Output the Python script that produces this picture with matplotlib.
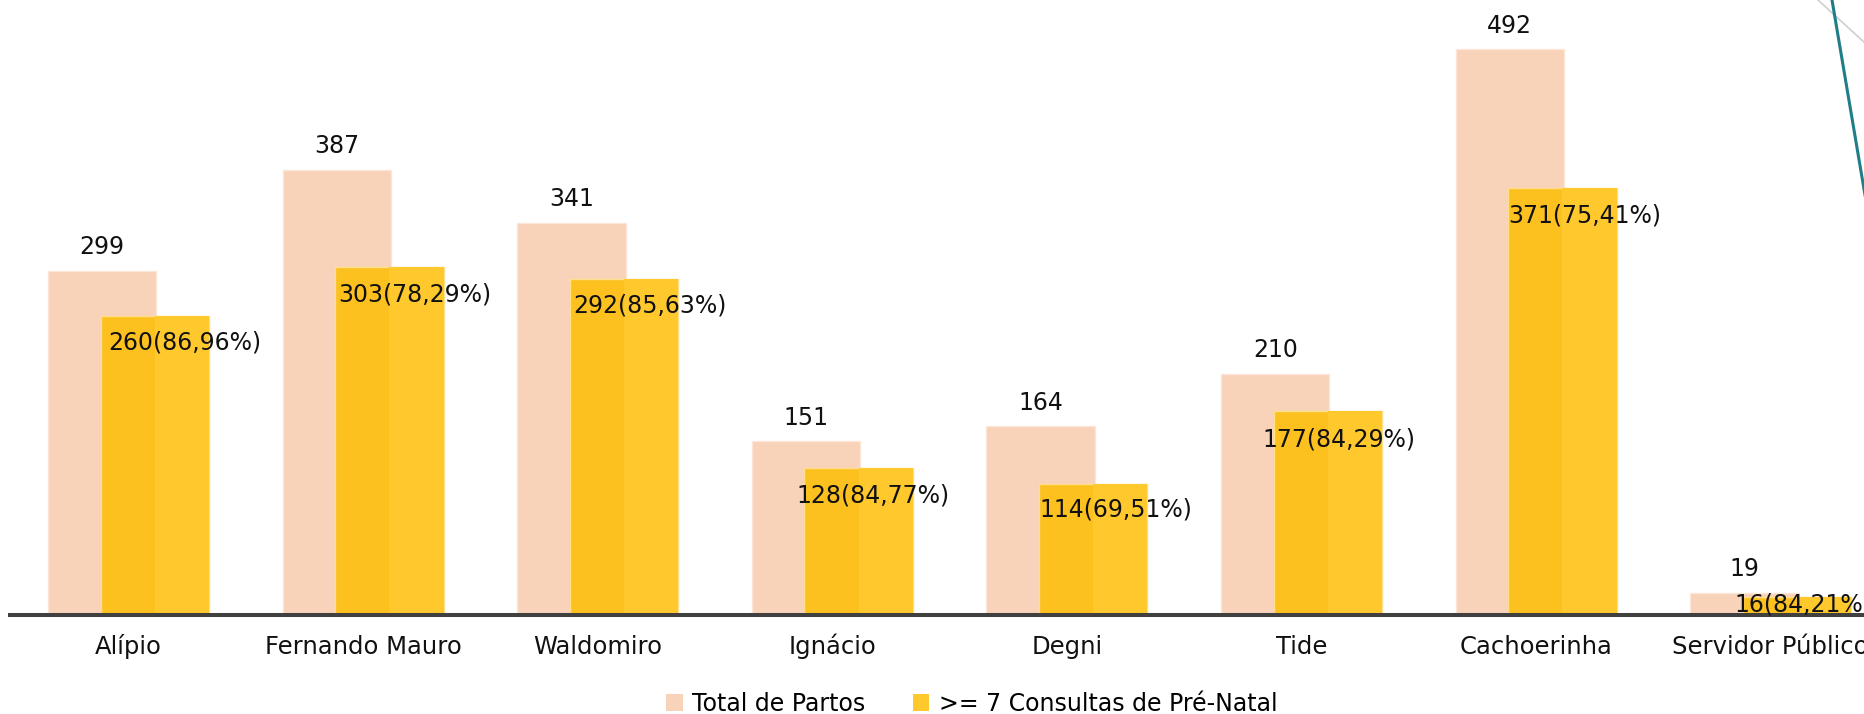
import matplotlib
matplotlib.use("Agg")
import matplotlib.pyplot as plt
from matplotlib.lines import Line2D
from matplotlib.patches import Patch
import numpy as np

# ---- data ----
categories = ['Alípio', 'Fernando Mauro', 'Waldomiro', 'Ignácio', 'Degni',
              'Tide', 'Cachoerinha', 'Servidor Público']
total_partos = [299, 387, 341, 151, 164, 210, 492, 19]
consultas7 = [260, 303, 292, 128, 114, 177, 371, 16]
pct_labels = ['86,96', '78,29', '85,63', '84,77', '69,51', '84,29', '75,41', '84,21']
series_names = ['Total de Partos', '>= 7 Consultas de Pré-Natal']

# ---- style ----
W, H = 1865, 714
DPI = 100
FONT = 'DejaVu Sans'
FS_CAT = 17.5
FS_TOT = 17.0
FS_VAL = 17.0
FS_LEG = 17.0
peach = '#F9D2BA'
yellow_l = '#FCC01F'
yellow_r = '#FFC82D'
axis_col = '#404040'
# per-label pixel offsets of the yellow-bar labels (relative to bar top centre)
yl_dx = [30.5, 25.5, 25.5, 14, 22.5, 11, 22.5, 6]
yl_dy = [-26, -28, -26.5, -28, -26, -28, -27, -7.5]

plt.rcParams['font.family'] = [FONT]

fig = plt.figure(figsize=(W / DPI, H / DPI), dpi=DPI)
base_px = 615
ax = fig.add_axes([10 / W, (H - base_px) / H, 1 - 10 / W, base_px / H])

x = np.arange(len(categories))
bw = 0.4625
off = 0.112

ax.bar(x - off, total_partos, width=bw, color=peach, edgecolor='#FCE6D8',
       linewidth=1.0, zorder=2)
# yellow bars with slightly lighter right half
ax.bar(x + off, consultas7, width=bw, color=yellow_l, edgecolor='#FFE08A',
       linewidth=1.0, zorder=3)
ax.bar(x + off + bw / 4, consultas7, width=bw / 2, color=yellow_r,
       linewidth=0, zorder=3.5)

ax.set_xlim(-0.5051, 7.402)
ax.set_ylim(0, 534.8)

for s in ['top', 'left', 'right']:
    ax.spines[s].set_visible(False)
ax.spines['bottom'].set_color(axis_col)
ax.spines['bottom'].set_linewidth(2.9)
ax.spines['bottom'].set_zorder(5)
ax.set_yticks([])
ax.set_xticks([])

# category labels
for xi, c in zip(x, categories):
    ax.annotate(c, xy=(xi, 0), xytext=(0, -39), textcoords='offset pixels',
                ha='center', va='baseline', fontsize=FS_CAT, color='#111111',
                annotation_clip=False)

# total labels
for xi, v in zip(x, total_partos):
    ax.annotate(str(v), xy=(xi - off, v), xytext=(0, 16.7),
                textcoords='offset pixels', ha='center', va='baseline',
                fontsize=FS_TOT, color='#111111', zorder=6)

# consultas labels
for i, (xi, v, p) in enumerate(zip(x, consultas7, pct_labels)):
    ax.annotate(f'{v}({p}%)', xy=(xi + off, v), xytext=(yl_dx[i], yl_dy[i]),
                textcoords='offset pixels', ha='center', va='center',
                fontsize=FS_VAL, color='#111111', zorder=6, annotation_clip=False)

# legend
handles = [Patch(facecolor=peach, edgecolor='none'),
           Patch(facecolor=yellow_r, edgecolor='none')]
fig.legend(handles, series_names, loc='center left',
           bbox_to_anchor=(666 / W, (H - 704) / H), ncol=2, frameon=False,
           fontsize=FS_LEG, handlelength=0.7, handleheight=0.7,
           handletextpad=0.42, columnspacing=2.0, borderpad=0,
           borderaxespad=0)

# decorative slide lines (top-right)
fig.add_artist(Line2D([1818 / W, 1.0], [1.0, 1 - 43 / H], color='#CFCFCF',
                      linewidth=1.2, transform=fig.transFigure))
fig.add_artist(Line2D([1832 / W, 1.0], [1.0, 1 - 195 / H], color='#217D88',
                      linewidth=2.2, transform=fig.transFigure))

fig.savefig('out.png', dpi=DPI)
